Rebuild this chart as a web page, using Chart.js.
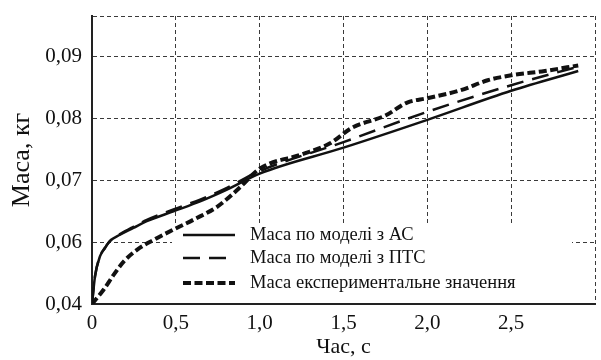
<!DOCTYPE html>
<html>
<head>
<meta charset="utf-8">
<script src="https://cdn.jsdelivr.net/npm/chart.js@4.4.1/dist/chart.umd.min.js"></script>
<style>
html,body{margin:0;padding:0;background:#fff;}
#wrap{width:601px;height:360px;}
</style>
</head>
<body>
<div id="wrap"><canvas id="c" width="601" height="360"></canvas></div>
<script>
// ---- data ----
const seriesLabels = ['Маса по моделі з АС', 'Маса по моделі з ПТС', 'Маса експериментальне значення'];

const timeAC = [0, 0.018, 0.048, 0.078, 0.108, 0.167, 0.247, 0.327, 0.486, 0.645, 0.805, 1.0, 1.5, 2.0, 2.5, 2.9];
const massAC = [0.040, 0.049, 0.0555, 0.0582, 0.0602, 0.0612, 0.0623, 0.0634, 0.0650, 0.0666, 0.0685, 0.0711, 0.0753, 0.0798, 0.0845, 0.0877];

const timePTS = [0, 0.018, 0.048, 0.078, 0.108, 0.167, 0.247, 0.327, 0.486, 0.645, 0.805, 1.0, 1.5, 2.0, 2.5, 2.9];
const massPTS = [0.040, 0.049, 0.0555, 0.0582, 0.0602, 0.0613, 0.0625, 0.0636, 0.0653, 0.0669, 0.0688, 0.0715, 0.0762, 0.0811, 0.0854, 0.0884];

const timeExp = [0, 0.07, 0.13, 0.19, 0.27, 0.37, 0.49, 0.61, 0.75, 0.88, 1.0, 1.25, 1.42, 1.55, 1.75, 1.88, 2.0, 2.2, 2.36, 2.5, 2.7, 2.9];
const massExp = [0.040, 0.0447, 0.0495, 0.0538, 0.0576, 0.0604, 0.0621, 0.0637, 0.0658, 0.0688, 0.0719, 0.0742, 0.0760, 0.0785, 0.0805, 0.0826, 0.0833, 0.0846, 0.0862, 0.0870, 0.0877, 0.0886];

const xTicks = [0, 0.5, 1.0, 1.5, 2.0, 2.5, 3.0];
const xTickLabels = ['0', '0,5', '1,0', '1,5', '2,0', '2,5', ''];
const yTicks = [0.04, 0.06, 0.07, 0.08, 0.09, 0.0966];
const yTickLabels = ['0,04', '0,06', '0,07', '0,08', '0,09', ''];
const yBreakBelow = 0.06;   // axis segment 0,04–0,06 is drawn compressed (as in the original)
const xTitle = 'Час, с';
const yTitle = 'Маса, кг';

// ---- scale with compressed lower segment ----
class BrokenLinearScale extends Chart.LinearScale {
  _map(v) { return v >= yBreakBelow ? v : yBreakBelow - (yBreakBelow - v) / 2; }
  _unmap(m) { return m >= yBreakBelow ? m : yBreakBelow - (yBreakBelow - m) * 2; }
  getPixelForValue(v) {
    const a = this._map(this.min), b = this._map(this.max);
    return this.getPixelForDecimal((this._map(v) - a) / (b - a));
  }
  getValueForPixel(p) {
    const a = this._map(this.min), b = this._map(this.max);
    return this._unmap(a + this.getDecimalForPixel(p) * (b - a));
  }
}
BrokenLinearScale.id = 'brokenLinear';
BrokenLinearScale.defaults = {};
Chart.register(BrokenLinearScale);

const pts = (xs, ys) => xs.map((x, i) => ({x: x, y: ys[i]}));

const serif = "'Liberation Serif', 'DejaVu Serif', serif";

const legendPlugin = {
  id: 'boxLegend',
  beforeDatasetsDraw(chart) {
    const ctx = chart.ctx, ca = chart.chartArea;
    const bx = ca.left + 80, by = ca.top + 208, bw = 400, bh = 76;
    ctx.save();
    ctx.fillStyle = '#fff';
    ctx.fillRect(bx, by, bw, bh);
    const rows = [by + 11, by + 34, by + 59];
    chart.data.datasets.forEach((ds, i) => {
      ctx.beginPath();
      ctx.strokeStyle = ds.borderColor;
      ctx.lineWidth = ds.borderWidth;
      ctx.setLineDash(ds.borderDash || []);
      ctx.moveTo(bx + 11, rows[i]);
      ctx.lineTo(bx + 63, rows[i]);
      ctx.stroke();
      ctx.setLineDash([]);
      ctx.fillStyle = '#111';
      ctx.font = '18.5px ' + serif;
      ctx.textBaseline = 'middle';
      ctx.textAlign = 'left';
      ctx.fillText(ds.label, bx + 78, rows[i]);
    });
    ctx.restore();
  }
};

const gridColor = '#3a3a3a';

new Chart(document.getElementById('c'), {
  type: 'scatter',
  data: {
    datasets: [
      { label: seriesLabels[0], data: pts(timeAC, massAC), showLine: true, borderColor: '#111', borderWidth: 2.5, pointRadius: 0, cubicInterpolationMode: 'monotone' },
      { label: seriesLabels[1], data: pts(timePTS, massPTS), showLine: true, borderColor: '#111', borderWidth: 2.5, borderDash: [17, 9], pointRadius: 0, cubicInterpolationMode: 'monotone' },
      { label: seriesLabels[2], data: pts(timeExp, massExp), showLine: true, borderColor: '#111', borderWidth: 4, borderDash: [8, 3.5], pointRadius: 0, cubicInterpolationMode: 'monotone' }
    ]
  },
  options: {
    responsive: false,
    animation: false,
    devicePixelRatio: 1,
    layout: { padding: { top: 16, right: 6, left: 0, bottom: 0 } },
    plugins: { legend: { display: false }, tooltip: { enabled: false } },
    scales: {
      x: {
        type: 'linear', min: 0, max: 3.0,
        afterBuildTicks: s => { s.ticks = xTicks.map(v => ({value: v})); },
        afterFit: s => { s.height = 56; s.paddingLeft = 0; s.paddingRight = 0; },
        ticks: {
          padding: 7, color: '#111', font: { family: serif, size: 21 },
          callback: (v) => { const i = xTicks.indexOf(v); return i >= 0 ? xTickLabels[i] : ''; }
        },
        grid: {
          drawTicks: false, lineWidth: 1,
          color: c => (c.tick && c.tick.value === 0) ? 'rgba(0,0,0,0)' : gridColor
        },
        border: { display: true, color: '#222', width: 2, dash: [4, 3] },
        title: { display: true, text: xTitle, color: '#111', font: { family: serif, size: 22 }, padding: { top: 0, bottom: 0 } }
      },
      y: {
        type: 'brokenLinear', min: 0.04, max: 0.0966,
        afterBuildTicks: s => { s.ticks = yTicks.map(v => ({value: v})); },
        afterFit: s => { s.width = 92; s.paddingTop = 0; s.paddingBottom = 0; },
        ticks: {
          padding: 10, color: '#111', font: { family: serif, size: 21 },
          callback: (v) => { const i = yTicks.indexOf(v); return i >= 0 ? yTickLabels[i] : ''; }
        },
        grid: {
          drawTicks: false, lineWidth: 1,
          color: c => (c.tick && c.tick.value === 0.04) ? 'rgba(0,0,0,0)' : gridColor
        },
        border: { display: true, color: '#222', width: 2, dash: [4, 3] },
        title: { display: true, text: yTitle, color: '#111', font: { family: serif, size: 26 }, padding: { top: 7, bottom: 0 } }
      }
    }
  },
  plugins: [legendPlugin]
});
</script>
</body>
</html>
